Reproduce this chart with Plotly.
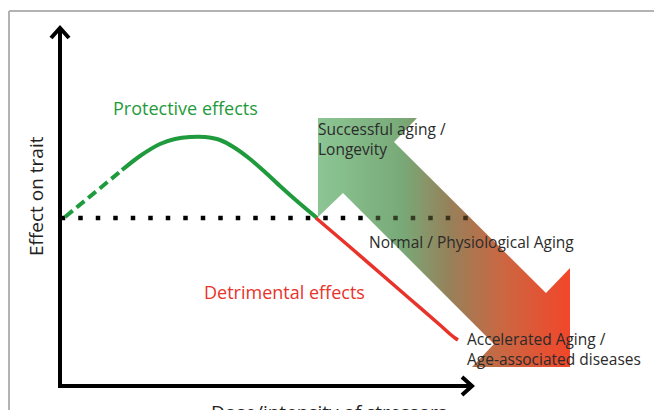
import numpy as np
import plotly.graph_objects as go

# ---- data (diagram coordinates: x = dose, y = effect, screen-like units) ----
protect_dash_x = [65, 80, 95, 110, 122]
protect_dash_y = [217, 205, 193, 180, 170]
protect_x = [122, 140, 160, 175, 190, 205, 220, 235, 250, 265, 280, 298, 317]
protect_y = [170, 156, 144, 139, 137, 137, 140, 148, 159, 172, 186, 202, 218]
detri_x = [316, 350, 380, 410, 440, 450, 455, 458]
detri_y = [218, 247, 273, 299, 325, 334, 338, 340]
baseline_y = 218
baseline_start, baseline_stop, baseline_step = 63, 470, 17.5

arrow_x = [318, 417, 394, 546, 570, 570, 472, 494, 343, 318, 318]
arrow_y = [118, 118, 142, 293, 268, 367, 367, 344, 193, 217, 118]

yaxis_x = [60, 60, 472]
yaxis_y = [28, 386, 386]
ytip_x = [51, 60, 69]
ytip_y = [38, 28, 38]
xtip_x = [462, 472, 462]
xtip_y = [377, 386, 395]

labels = {
    "protect": "Protective effects",
    "detri": "Detrimental effects",
    "success": "Successful aging /<br>Longevity",
    "normal": "Normal / Physiological Aging",
    "accel": "Accelerated Aging /<br>Age-associated diseases",
    "ytitle": "Effect on trait",
    "xtitle": "Dose/intensity of stressors",
}

GREEN = "#1f9a3d"
RED = "#e8332b"
FONT = "Open Sans"

fig = go.Figure()

# gradient double arrow
fig.add_trace(go.Scatter(
    x=arrow_x, y=arrow_y, mode="lines", fill="toself",
    line=dict(width=0, color="rgba(0,0,0,0)"),
    fillgradient=dict(type="horizontal", start=318, stop=570,
                      colorscale=[[0, "#8cc694"], [0.33, "#78aa78"], [0.52, "#96815a"],
                                  [0.74, "#cc6641"], [1, "#f2462a"]]),
    hoverinfo="skip", showlegend=False))

# dotted baseline
dots_x = np.arange(baseline_start, baseline_stop, baseline_step)
dot_cols = ["rgba(25,20,5,0.72)" if 365 <= d <= 472 else "#000000" for d in dots_x]
fig.add_trace(go.Scatter(
    x=dots_x, y=[baseline_y] * len(dots_x), mode="markers",
    marker=dict(symbol="square", size=4.5, color=dot_cols, line=dict(width=0)),
    hoverinfo="skip", showlegend=False))

# curves
fig.add_trace(go.Scatter(x=protect_dash_x, y=protect_dash_y, mode="lines",
                         line=dict(color=GREEN, width=4, dash="10px,5px"),
                         hoverinfo="skip", showlegend=False))
fig.add_trace(go.Scatter(x=protect_x, y=protect_y, mode="lines",
                         line=dict(color=GREEN, width=4, shape="spline", smoothing=0.8),
                         hoverinfo="skip", showlegend=False))
fig.add_trace(go.Scatter(x=detri_x, y=detri_y, mode="lines",
                         line=dict(color=RED, width=3.5, shape="spline"),
                         hoverinfo="skip", showlegend=False))

# axes with arrow heads
for xs, ys in [(yaxis_x, yaxis_y), (ytip_x, ytip_y), (xtip_x, xtip_y)]:
    fig.add_trace(go.Scatter(x=xs, y=ys, mode="lines",
                             line=dict(color="black", width=4),
                             hoverinfo="skip", showlegend=False))

# frame
fig.add_shape(type="line", x0=9, y0=11, x1=654, y1=11, xref="x", yref="y",
              line=dict(color="#b3b3b3", width=2))
fig.add_shape(type="line", x0=9, y0=11, x1=9, y1=410, xref="x", yref="y",
              line=dict(color="#b3b3b3", width=2))

def txt(x, y, t, color="#2b2b2b", size=14, xanchor="left", angle=0, yanchor="middle"):
    fig.add_annotation(x=x, y=y, text=t, showarrow=False, xref="x", yref="y",
                       xanchor=xanchor, yanchor=yanchor, align="left", textangle=angle,
                       font=dict(family=FONT, size=size, color=color))

txt(185, 108, labels["protect"], GREEN, 18, "center")
txt(284, 292, labels["detri"], RED, 18, "center")
txt(316, 139, labels["success"], "#2b2b2b", 15.5)
txt(367, 242, labels["normal"], "#2b2b2b", 15.5)
txt(465, 349, labels["accel"], "#2b2b2b", 15.5)
txt(36, 196, labels["ytitle"], "#222222", 19, "center", -90)
txt(329, 397, labels["xtitle"], "#222222", 19, "center", 0, "top")

fig.update_layout(
    width=654, height=410, margin=dict(l=0, r=0, t=0, b=0),
    paper_bgcolor="white", plot_bgcolor="white",
    xaxis=dict(range=[0, 654], visible=False, fixedrange=True),
    yaxis=dict(range=[410, 0], visible=False, fixedrange=True),
    showlegend=False,
)
fig.write_html("out.html", config={"displayModeBar": False},
               post_script="document.body.style.margin='0';document.body.style.overflow='hidden';")
